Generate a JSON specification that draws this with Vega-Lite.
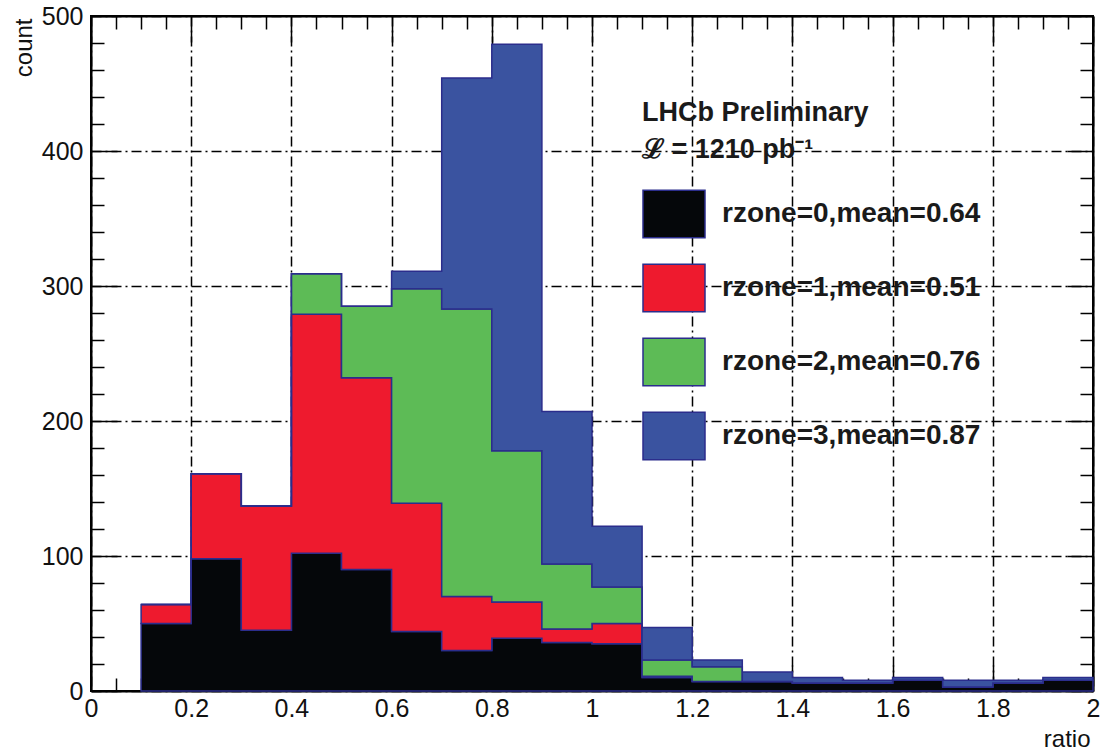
{
  "$schema": "https://vega.github.io/schema/vega-lite/v6.json",
  "width": 1002,
  "height": 675,
  "autosize": {"type": "none"},
  "padding": {"left": 91, "top": 16, "right": 17, "bottom": 61},
  "background": "white",
  "config": {
    "font": "Liberation Sans",
    "view": {"stroke": "black", "strokeWidth": 2},
    "axis": {
      "domainColor": "black",
      "domainWidth": 2,
      "tickColor": "black",
      "tickWidth": 1.5,
      "gridColor": "black",
      "gridWidth": 1.5,
      "gridDash": [10, 4, 2, 4],
      "labelColor": "#111",
      "labelFontSize": 25,
      "labelFont": "Liberation Sans",
      "labelOverlap": false,
      "labelFlush": false,
      "titleFont": "Liberation Sans",
      "titleFontSize": 24,
      "titleFontWeight": "normal",
      "titleColor": "#111"
    }
  },
  "data": {
    "values": [
      {"ratio": 0.1, "zone": "rzone=0,mean=0.64", "count": 50},
      {"ratio": 0.2, "zone": "rzone=0,mean=0.64", "count": 98},
      {"ratio": 0.3, "zone": "rzone=0,mean=0.64", "count": 45},
      {"ratio": 0.4, "zone": "rzone=0,mean=0.64", "count": 102},
      {"ratio": 0.5, "zone": "rzone=0,mean=0.64", "count": 90},
      {"ratio": 0.6, "zone": "rzone=0,mean=0.64", "count": 44},
      {"ratio": 0.7, "zone": "rzone=0,mean=0.64", "count": 30},
      {"ratio": 0.8, "zone": "rzone=0,mean=0.64", "count": 39},
      {"ratio": 0.9, "zone": "rzone=0,mean=0.64", "count": 36},
      {"ratio": 1.0, "zone": "rzone=0,mean=0.64", "count": 35},
      {"ratio": 1.1, "zone": "rzone=0,mean=0.64", "count": 10},
      {"ratio": 1.2, "zone": "rzone=0,mean=0.64", "count": 7},
      {"ratio": 1.3, "zone": "rzone=0,mean=0.64", "count": 7},
      {"ratio": 1.4, "zone": "rzone=0,mean=0.64", "count": 6},
      {"ratio": 1.5, "zone": "rzone=0,mean=0.64", "count": 6},
      {"ratio": 1.6, "zone": "rzone=0,mean=0.64", "count": 8},
      {"ratio": 1.7, "zone": "rzone=0,mean=0.64", "count": 3},
      {"ratio": 1.8, "zone": "rzone=0,mean=0.64", "count": 6},
      {"ratio": 1.9, "zone": "rzone=0,mean=0.64", "count": 8},
      {"ratio": 2.0, "zone": "rzone=0,mean=0.64", "count": 8},

      {"ratio": 0.1, "zone": "rzone=1,mean=0.51", "count": 14},
      {"ratio": 0.2, "zone": "rzone=1,mean=0.51", "count": 63},
      {"ratio": 0.3, "zone": "rzone=1,mean=0.51", "count": 92},
      {"ratio": 0.4, "zone": "rzone=1,mean=0.51", "count": 177},
      {"ratio": 0.5, "zone": "rzone=1,mean=0.51", "count": 142},
      {"ratio": 0.6, "zone": "rzone=1,mean=0.51", "count": 95},
      {"ratio": 0.7, "zone": "rzone=1,mean=0.51", "count": 40},
      {"ratio": 0.8, "zone": "rzone=1,mean=0.51", "count": 27},
      {"ratio": 0.9, "zone": "rzone=1,mean=0.51", "count": 10},
      {"ratio": 1.0, "zone": "rzone=1,mean=0.51", "count": 15},
      {"ratio": 1.1, "zone": "rzone=1,mean=0.51", "count": 1},
      {"ratio": 1.2, "zone": "rzone=1,mean=0.51", "count": 0},
      {"ratio": 1.3, "zone": "rzone=1,mean=0.51", "count": 0},
      {"ratio": 1.4, "zone": "rzone=1,mean=0.51", "count": 0},
      {"ratio": 1.5, "zone": "rzone=1,mean=0.51", "count": 0},
      {"ratio": 1.6, "zone": "rzone=1,mean=0.51", "count": 0},
      {"ratio": 1.7, "zone": "rzone=1,mean=0.51", "count": 0},
      {"ratio": 1.8, "zone": "rzone=1,mean=0.51", "count": 0},
      {"ratio": 1.9, "zone": "rzone=1,mean=0.51", "count": 0},
      {"ratio": 2.0, "zone": "rzone=1,mean=0.51", "count": 0},

      {"ratio": 0.1, "zone": "rzone=2,mean=0.76", "count": 0},
      {"ratio": 0.2, "zone": "rzone=2,mean=0.76", "count": 0},
      {"ratio": 0.3, "zone": "rzone=2,mean=0.76", "count": 0},
      {"ratio": 0.4, "zone": "rzone=2,mean=0.76", "count": 30},
      {"ratio": 0.5, "zone": "rzone=2,mean=0.76", "count": 53},
      {"ratio": 0.6, "zone": "rzone=2,mean=0.76", "count": 159},
      {"ratio": 0.7, "zone": "rzone=2,mean=0.76", "count": 213},
      {"ratio": 0.8, "zone": "rzone=2,mean=0.76", "count": 112},
      {"ratio": 0.9, "zone": "rzone=2,mean=0.76", "count": 48},
      {"ratio": 1.0, "zone": "rzone=2,mean=0.76", "count": 27},
      {"ratio": 1.1, "zone": "rzone=2,mean=0.76", "count": 12},
      {"ratio": 1.2, "zone": "rzone=2,mean=0.76", "count": 11},
      {"ratio": 1.3, "zone": "rzone=2,mean=0.76", "count": 0},
      {"ratio": 1.4, "zone": "rzone=2,mean=0.76", "count": 0},
      {"ratio": 1.5, "zone": "rzone=2,mean=0.76", "count": 0},
      {"ratio": 1.6, "zone": "rzone=2,mean=0.76", "count": 0},
      {"ratio": 1.7, "zone": "rzone=2,mean=0.76", "count": 0},
      {"ratio": 1.8, "zone": "rzone=2,mean=0.76", "count": 0},
      {"ratio": 1.9, "zone": "rzone=2,mean=0.76", "count": 0},
      {"ratio": 2.0, "zone": "rzone=2,mean=0.76", "count": 0},

      {"ratio": 0.1, "zone": "rzone=3,mean=0.87", "count": 0},
      {"ratio": 0.2, "zone": "rzone=3,mean=0.87", "count": 0},
      {"ratio": 0.3, "zone": "rzone=3,mean=0.87", "count": 0},
      {"ratio": 0.4, "zone": "rzone=3,mean=0.87", "count": 0},
      {"ratio": 0.5, "zone": "rzone=3,mean=0.87", "count": 0},
      {"ratio": 0.6, "zone": "rzone=3,mean=0.87", "count": 13},
      {"ratio": 0.7, "zone": "rzone=3,mean=0.87", "count": 171},
      {"ratio": 0.8, "zone": "rzone=3,mean=0.87", "count": 301},
      {"ratio": 0.9, "zone": "rzone=3,mean=0.87", "count": 113},
      {"ratio": 1.0, "zone": "rzone=3,mean=0.87", "count": 45},
      {"ratio": 1.1, "zone": "rzone=3,mean=0.87", "count": 24},
      {"ratio": 1.2, "zone": "rzone=3,mean=0.87", "count": 5},
      {"ratio": 1.3, "zone": "rzone=3,mean=0.87", "count": 7},
      {"ratio": 1.4, "zone": "rzone=3,mean=0.87", "count": 4},
      {"ratio": 1.5, "zone": "rzone=3,mean=0.87", "count": 2},
      {"ratio": 1.6, "zone": "rzone=3,mean=0.87", "count": 2},
      {"ratio": 1.7, "zone": "rzone=3,mean=0.87", "count": 5},
      {"ratio": 1.8, "zone": "rzone=3,mean=0.87", "count": 2},
      {"ratio": 1.9, "zone": "rzone=3,mean=0.87", "count": 2},
      {"ratio": 2.0, "zone": "rzone=3,mean=0.87", "count": 2}
    ]
  },
  "layer": [
    {
      "mark": {"type": "area", "interpolate": "step-after", "stroke": "#2b2d8c", "strokeWidth": 1.5, "strokeJoin": "miter"},
      "encoding": {
        "x": {
          "field": "ratio", "type": "quantitative",
          "scale": {"domain": [0, 2], "nice": false, "zero": false},
          "axis": {
            "orient": "bottom",
            "values": [0,0.05,0.1,0.15,0.2,0.25,0.3,0.35,0.4,0.45,0.5,0.55,0.6,0.65,0.7,0.75,0.8,0.85,0.9,0.95,1,1.05,1.1,1.15,1.2,1.25,1.3,1.35,1.4,1.45,1.5,1.55,1.6,1.65,1.7,1.75,1.8,1.85,1.9,1.95,2],
            "labelExpr": "abs(datum.value*5-round(datum.value*5))<0.001 ? format(datum.value,'~g') : ''",
            "tickSize": {"condition": {"test": "abs(datum.value*5-round(datum.value*5))<0.001", "value": -26}, "value": -13},
            "gridOpacity": {"condition": {"test": "abs(datum.value*5-round(datum.value*5))<0.001", "value": 1}, "value": 0},
            "labelPadding": 31,
            "title": "ratio",
            "titleAlign": "right",
            "titleBaseline": "alphabetic",
            "titleX": 999,
            "titleY": 55
          }
        },
        "y": {
          "field": "count", "type": "quantitative", "stack": "zero",
          "scale": {"domain": [0, 500], "nice": false},
          "axis": {
            "orient": "left",
            "values": [0,20,40,60,80,100,120,140,160,180,200,220,240,260,280,300,320,340,360,380,400,420,440,460,480,500],
            "labelExpr": "datum.value % 100 == 0 ? datum.label : ''",
            "tickSize": {"condition": {"test": "datum.value % 100 == 0", "value": -26}, "value": -13},
            "gridOpacity": {"condition": {"test": "datum.value % 100 == 0", "value": 1}, "value": 0},
            "labelPadding": 34,
            "title": "count",
            "titleAngle": -90,
            "titleAlign": "right",
            "titleBaseline": "middle",
            "titleX": -67,
            "titleY": 2
          }
        },
        "color": {
          "field": "zone", "type": "nominal",
          "scale": {
            "domain": ["rzone=0,mean=0.64", "rzone=1,mean=0.51", "rzone=2,mean=0.76", "rzone=3,mean=0.87"],
            "range": ["#05070a", "#ee1a2e", "#5dbb56", "#3a53a0"]
          },
          "legend": {
            "orient": "none",
            "legendX": 551,
            "legendY": 84,
            "title": ["LHCb Preliminary", "ℒ = 1210 pb⁻¹"],
            "titleFont": "Liberation Sans",
            "titleFontSize": 27,
            "titleFontWeight": "bold",
            "titleColor": "#1a1a1a",
            "titleLineHeight": 37,
            "titlePadding": 18,
            "titleLimit": 500,
            "symbolType": "M-1,-0.77H1V0.77H-1Z",
            "symbolSize": 3844,
            "symbolStrokeColor": "#2b2d8c",
            "symbolStrokeWidth": 1.5,
            "symbolOpacity": 1,
            "labelFont": "Liberation Sans",
            "labelFontSize": 28,
            "labelFontWeight": "bold",
            "labelColor": "#1a1a1a",
            "labelOffset": 16,
            "labelLimit": 400,
            "rowPadding": 15
          }
        },
        "order": {"field": "zone", "type": "ordinal", "sort": "ascending"}
      }
    },
    {
      "mark": {"type": "point", "opacity": 0},
      "encoding": {
        "x": {
          "field": "ratio", "type": "quantitative",
          "scale": {"domain": [0, 2], "nice": false, "zero": false},
          "axis": {
            "orient": "top",
            "values": [0,0.05,0.1,0.15,0.2,0.25,0.3,0.35,0.4,0.45,0.5,0.55,0.6,0.65,0.7,0.75,0.8,0.85,0.9,0.95,1,1.05,1.1,1.15,1.2,1.25,1.3,1.35,1.4,1.45,1.5,1.55,1.6,1.65,1.7,1.75,1.8,1.85,1.9,1.95,2],
            "labels": false,
            "grid": false,
            "title": null,
            "tickSize": {"condition": {"test": "abs(datum.value*5-round(datum.value*5))<0.001", "value": -26}, "value": -13}
          }
        },
        "y": {
          "field": "count", "type": "quantitative",
          "scale": {"domain": [0, 500], "nice": false},
          "axis": {
            "orient": "right",
            "values": [0,20,40,60,80,100,120,140,160,180,200,220,240,260,280,300,320,340,360,380,400,420,440,460,480,500],
            "labels": false,
            "grid": false,
            "title": null,
            "tickSize": {"condition": {"test": "datum.value % 100 == 0", "value": -26}, "value": -13}
          }
        }
      }
    }
  ],
  "resolve": {"axis": {"x": "independent", "y": "independent"}}
}
